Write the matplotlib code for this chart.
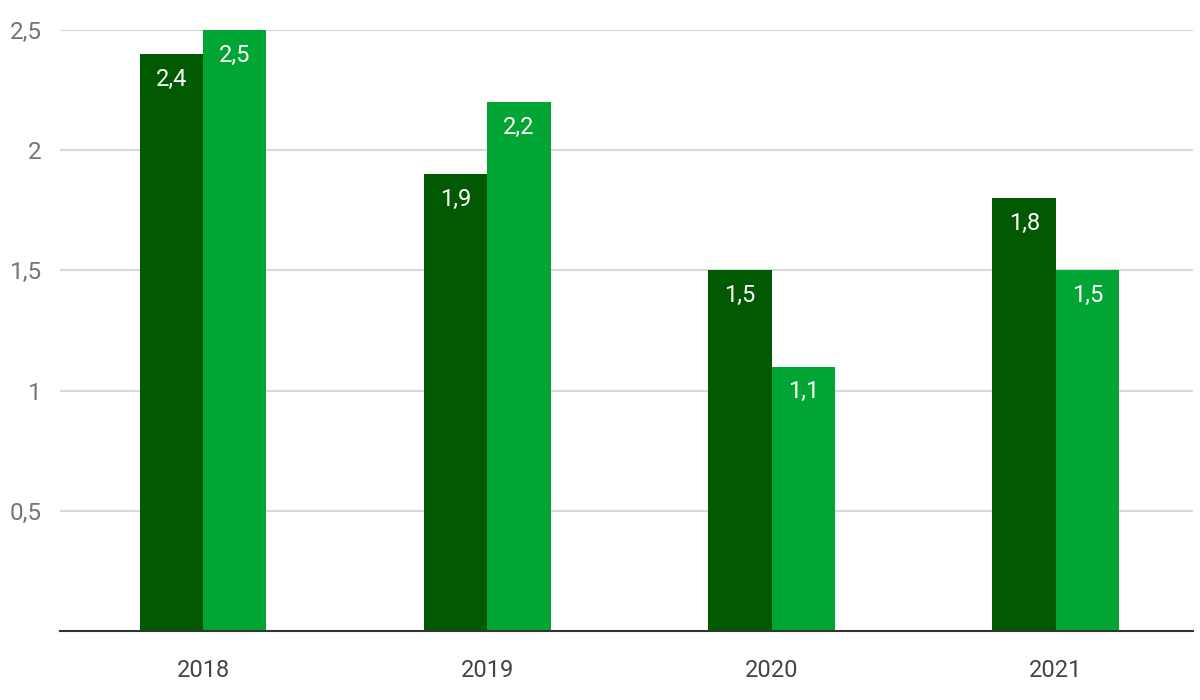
import matplotlib
matplotlib.use("Agg")
import matplotlib.pyplot as plt
import numpy as np

categories = ["2018", "2019", "2020", "2021"]
series_a = [2.4, 1.9, 1.5, 1.8]
series_b = [2.5, 2.2, 1.1, 1.5]
y_ticks = [0.5, 1, 1.5, 2, 2.5]
y_tick_labels = ["0,5", "1", "1,5", "2", "2,5"]

plt.rcParams['font.family'] = ['Roboto', 'DejaVu Sans']

fig = plt.figure(figsize=(12, 7), dpi=100)
ax = fig.add_axes([60/1200, 69/700, 1133/1200, 601/700])

x = np.arange(len(categories))
w = 0.2233
c_dark = "#015a01"
c_light = "#01a533"
bars_a = ax.bar(x - w/2, series_a, width=w, color=c_dark, zorder=3)
bars_b = ax.bar(x + w/2, series_b, width=w, color=c_light, zorder=3)

def fmt(v):
    return f"{v:.1f}".replace(".", ",")

for bars, vals in ((bars_a, series_a), (bars_b, series_b)):
    for b, v in zip(bars, vals):
        ax.annotate(fmt(v), (b.get_x() + b.get_width()/2, v), xytext=(0, -25),
                    textcoords="offset pixels", ha="center", va="center",
                    color="white", fontsize=17, zorder=4)

ax.set_xlim(-0.503, 3.482)
ax.set_ylim(0, 2.5)
ax.set_yticks(y_ticks)
ax.set_yticklabels(y_tick_labels)
ax.set_xticks(x)
ax.set_xticklabels(categories)
ax.grid(axis="y", color="#d9d9d9", linewidth=1.5, zorder=0)
ax.tick_params(axis="y", length=0, pad=13, labelsize=17.5, labelcolor="#757575")
ax.tick_params(axis="x", length=0, pad=20, labelsize=17, labelcolor="#444444")
for s in ("top", "right", "left"):
    ax.spines[s].set_visible(False)
ax.spines["bottom"].set_color("#333333")
ax.spines["bottom"].set_linewidth(1.5)
ax.spines["bottom"].set_zorder(5)

fig.savefig("out.png", dpi=100)
